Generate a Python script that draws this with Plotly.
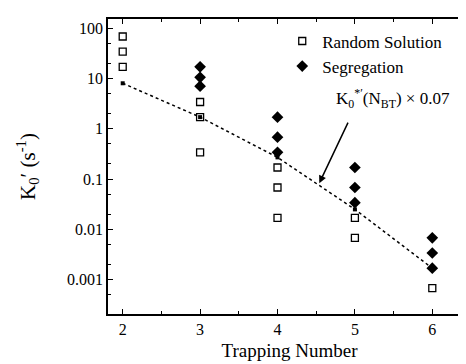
import plotly.graph_objects as go
import numpy as np

# Data
x_random = [2, 2, 2, 3, 3, 3, 4, 4, 4, 5, 5, 6]
y_random = [68, 34, 17, 3.4, 1.7, 0.34, 0.17, 0.068, 0.017, 0.017, 0.0068, 0.00068]
x_seg = [3, 3, 3, 4, 4, 4, 5, 5, 5, 6, 6, 6]
y_seg = [17, 10.5, 7, 1.7, 0.68, 0.34, 0.17, 0.068, 0.034, 0.0068, 0.0034, 0.0017]
x_fit = [2, 3, 4, 5, 6]
y_fit = [8, 1.7, 0.27, 0.025, 0.0017]
y_tickvals = [0.001, 0.01, 0.1, 1, 10, 100]
y_ticktext = ["0.001", "0.01", "0.1", "1", "10", "100"]

FONT = "Liberation Serif, Times New Roman, serif"

fig = go.Figure()
fig.add_trace(go.Scatter(
    x=x_fit, y=y_fit, mode="lines+markers", showlegend=False,
    line=dict(color="black", width=1.5, dash="dot"),
    marker=dict(symbol="square", size=4, color="black"),
))
fig.add_trace(go.Scatter(
    x=x_random, y=y_random, mode="markers", name="Random Solution",
    marker=dict(symbol="square-open", size=7, color="black", line=dict(width=1.3, color="black")),
))
fig.add_trace(go.Scatter(
    x=x_seg, y=y_seg, mode="markers", name="Segregation",
    marker=dict(symbol="diamond", size=9, color="black"),
))

fig.add_annotation(
    x=4.54, y=np.log10(0.083), ax=4.92, ay=0.15,
    xref="x", yref="y", axref="x", ayref="y",
    text="", showarrow=True, arrowhead=2, arrowsize=1, arrowwidth=1.5, arrowcolor="black",
)
fig.add_annotation(
    x=5.49, y=0.6, xref="x", yref="y", showarrow=False,
    text="K<sub>0</sub><sup>*′</sup>(N<sub>BT</sub>) × 0.07",
    font=dict(family=FONT, size=17, color="black"),
)

fig.update_xaxes(
    range=[1.81, 6.5], tickvals=[2, 3, 4, 5, 6],
    ticks="inside", ticklen=5, tickwidth=1, tickcolor="black",
    minor=dict(ticks="inside", dtick=0.5, tick0=2.5, ticklen=3, tickcolor="black"),
    showline=True, linecolor="black", linewidth=1.5, mirror="allticks",
    showgrid=False, zeroline=False,
    tickfont=dict(family=FONT, size=16, color="black"),
    title=dict(text="Trapping Number", font=dict(family=FONT, size=19, color="black"), standoff=7),
)
fig.update_yaxes(
    type="log", range=[-3.68, 2.18], tickvals=y_tickvals, ticktext=y_ticktext,
    ticks="inside", ticklen=5, tickwidth=1, tickcolor="black",
    minor=dict(ticks="inside", ticklen=3, tickcolor="black", showgrid=False),
    showline=True, linecolor="black", linewidth=1.5, mirror="allticks",
    showgrid=False, zeroline=False,
    tickfont=dict(family=FONT, size=16, color="black"),
    title=dict(text="K<sub>0</sub>′ (s<sup>-1</sup>)", font=dict(family=FONT, size=21, color="black"), standoff=26),
)

fig.update_layout(
    width=466, height=364,
    margin=dict(l=100, r=1, t=11, b=58),
    paper_bgcolor="white", plot_bgcolor="white",
    legend=dict(x=0.48, y=0.985, xanchor="left", yanchor="top",
                font=dict(family=FONT, size=17, color="black"),
                bgcolor="rgba(0,0,0,0)", tracegroupgap=0),
)

fig.write_html("out.html")
